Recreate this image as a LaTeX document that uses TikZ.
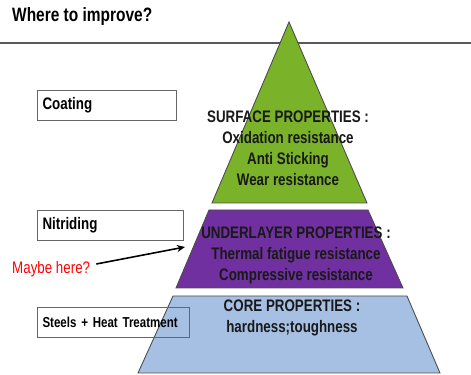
\documentclass[tikz,border=0pt]{standalone}
\usepackage{fontspec}
\setmainfont{Liberation Sans}[FakeStretch=0.8]
\usetikzlibrary{arrows.meta}

\definecolor{surfgreen}{RGB}{122,178,42}
\definecolor{underpurple}{RGB}{112,48,160}
\definecolor{coreblue}{RGB}{166,192,228}

\begin{document}
\begin{tikzpicture}[
    x=0.02cm, y=-0.02cm,
    layer/.style={draw=black!70, line width=0.5pt},
    props/.style={font=\fontsize{9.5}{12}\selectfont\bfseries, align=center, text=black!90},
    method/.style={draw=black!60, line width=0.6pt, anchor=north west, minimum height=0.6cm, inner xsep=0.1cm, align=left, font=\fontsize{9.5}{11}\selectfont\bfseries},
    arrow/.style={-{Stealth[length=1.6mm, width=1.4mm]}, line width=0.9pt}
]
\useasboundingbox (0,0) rectangle (471,375);

% Title and rule
\node[font=\fontsize{11}{13}\selectfont\bfseries, anchor=west] (title) at (6,17) {Where to improve?};
\draw[black!65, line width=0.6pt] (0,43) -- (471,43);

% Pyramid layers
\draw[layer, fill=surfgreen] (289,22) -- (367,203) -- (212,203) -- cycle;
\draw[layer, fill=underpurple] (209,210) -- (368,210) -- (403,288) -- (176,288) -- cycle;
\draw[layer, fill=coreblue] (173,296) -- (407,296) -- (440,373) -- (138,373) -- cycle;

% Properties
\node[props] (surface) at (288,148) {SURFACE PROPERTIES :\\Oxidation resistance\\Anti Sticking\\Wear resistance};
\node[props] (under) at (296,255) {UNDERLAYER PROPERTIES :\\Thermal fatigue resistance\\Compressive resistance};
\node[props] (core) at (292,318) {CORE PROPERTIES :\\hardness;toughness};

% Methods
\node[method, text width=2.58cm] (coating) at (37,90) {Coating};
\node[method, text width=2.72cm] (nitriding) at (37,210) {Nitriding};
\node[method, text width=2.84cm, font=\fontsize{8.2}{11}\selectfont\bfseries] (steels) at (37,307) {Steels + Heat Treatment};

% Note
\node[anchor=west, text=red, font=\fontsize{9.5}{11}\selectfont] (maybe) at (6,269) {Maybe here?};
\coordinate (tip) at (185,247);
\draw[arrow] ([yshift=0.1cm]maybe.east) -- (tip);

\end{tikzpicture}
\end{document}
